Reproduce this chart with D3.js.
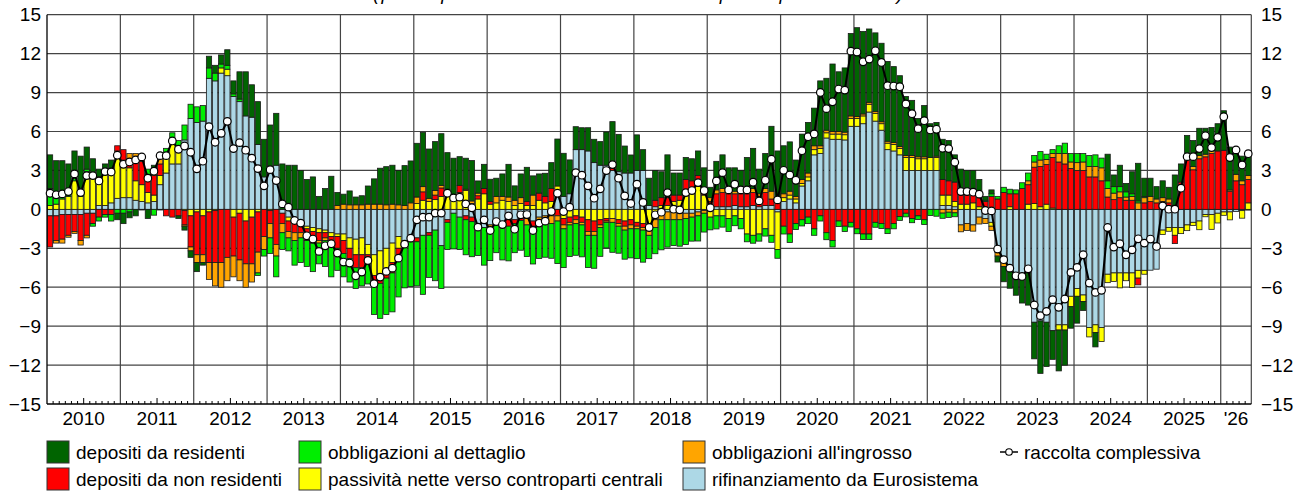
<!DOCTYPE html>
<html lang="it">
<head>
<meta charset="utf-8">
<style>
  body { margin: 0; background: #fff; }
  svg text { font-family: "Liberation Sans", Arial, sans-serif; fill: #000; }
</style>
<script src="https://cdn.jsdelivr.net/npm/d3@7/dist/d3.min.js"></script>
</head>
<body>
<svg width="1303" height="493"></svg>
<script>
// monthly data, Jan 2010 - May 2026 (one line per year)
var euro = [
  -0.5,-0.5,-0.4,-0.4,-0.4,-0.4,-0.3,-0.3,0.3,0.3,0.5,0.85,
  0.9,0.9,0.7,0.6,0.5,0.6,1.9,2.8,3.5,3.5,5.35,7.0,
  6.7,6.8,10.1,9.9,10.5,10.3,8.7,8.3,7.2,7.1,5.0,2.5,
  3.3,3.4,-0.3,-0.6,-0.8,-0.9,-1.3,-1.4,-1.5,-1.6,-1.8,-1.9,
  -1.9,-2.2,-2.3,-2.2,-2.7,-3.5,-3.2,-3.0,-2.6,-2.1,-2.4,-2.2,
  -2.2,-2.0,-1.8,-1.6,-2.8,-0.8,-0.3,-0.6,-0.5,-0.6,-1.3,-1.4,
  -1.2,-0.8,-1.0,-0.7,-0.8,-0.5,-0.7,-0.9,-0.6,-0.5,-0.5,1.2,
  1.0,1.2,4.6,4.6,4.5,3.6,3.4,3.4,3.0,2.9,2.8,2.8,
  3.0,3.0,0.3,0.2,-0.3,-0.2,-0.2,-0.3,-0.3,-0.3,-0.2,-0.1,
  0,0.2,0.2,0.2,0.3,0.2,0.2,0.3,0.2,0.3,0.3,-0.2,
  0.6,0.8,0.5,1.8,2.2,4.2,4.3,5.5,5.4,5.4,5.35,6.4,
  6.4,6.6,7.5,6.8,6.1,4.6,4.5,4.2,3.0,3.0,3.0,3.0,
  3.0,3.0,0.3,0.3,0.2,-1.2,-1.1,-1.2,-0.6,-0.7,-1.0,-3.0,
  -3.9,-4.5,-5.0,-5.0,-4.9,-8.7,-8.6,-8.7,-9.35,-8.9,-8.9,-6.7,
  -6.1,-6.6,-9.1,-8.9,-9.1,-5.0,-4.9,-4.9,-4.9,-4.9,-4.7,-4.7,
  -4.69,-4.61,-1.6,-1.4,-1.4,-1.4,-1.2,-1.0,-0.9,-0.4,-0.4,-0.3,
  -0.2,-0.2,-0.17,-0.1,-0.06
];
var ccp = [
  0.3,0.4,0.8,1.0,2.2,1.0,2.9,2.5,2.2,2.4,2.3,3.65,
  2.9,2.3,1.5,1.3,0.8,0.5,0.7,1.5,1.9,1.3,-0.1,-0.5,
  -0.2,-0.5,-0.2,-0.1,0.4,0.5,-0.6,-0.3,-0.9,-0.6,-0.2,0,
  -0.1,0,0,-0.3,-0.3,-0.2,-0.2,-0.3,-0.3,-0.2,-0.3,-0.2,
  -0.5,-0.8,-1.2,-1.3,-0.8,-1.6,-1.8,-1.6,-1.5,-0.9,-0.3,0,
  0.45,0.7,0.6,0.75,1.0,1.35,0.7,1.3,1.45,0.45,0.8,1.2,
  0.4,0.5,0.7,0.6,0.3,0.45,0.3,0.3,0.7,0.5,0.6,0.6,
  -0.7,-0.6,-0.5,-0.6,-0.8,-0.9,-0.8,-0.7,-0.7,-0.8,-0.9,-0.8,
  -1.0,-1.1,-1.3,-0.8,0.3,0.3,0.6,0.7,1.5,1.4,1.8,1.1,
  -0.6,-0.5,-0.5,-0.7,-0.5,-0.7,-1.9,-2.0,-1.9,-1.5,-2.0,-2.9,
  0.3,0.3,0.3,0.2,0.3,0.4,0.4,0.4,0.4,0.4,0.4,0.6,
  0.6,0.6,0.6,0.6,0.5,0.5,0.5,0.5,1.0,1.0,0.9,0.9,
  1.0,1.0,0.8,0.8,0.4,0.4,0.4,0.5,0.2,0,-0.3,-0.3,
  -0.2,0.2,-0.1,-0.2,0.4,0.45,0.2,0.4,0.1,-0.4,-0.4,-0.8,
  -0.6,-0.5,-0.73,-0.6,-1.09,-0.65,-0.66,-1.15,-0.6,-1.12,-0.6,-0.3,
  0,0,-0.33,-0.29,-0.6,-0.47,-0.44,-0.24,-0.67,-0.17,-1.14,-0.75,
  -0.26,-0.61,0,-0.58,0.5
];
var nonResidenti = [
  -2.4,-1.9,-1.9,-1.6,-1.3,-2.0,-1.7,-0.8,-0.6,-0.4,-0.4,0.4,
  0.8,0.7,1.7,1.8,1.1,1.5,0.9,-0.5,-0.6,-0.5,-1.1,-2.4,
  -3.3,-3.0,-3.9,-4.0,-4.1,-3.7,-3.0,-3.6,-3.3,-3.6,-3.1,-2.1,
  -1.0,-2.7,-0.8,-0.8,-0.7,-0.7,-0.6,-0.6,-0.6,-0.4,-0.5,-0.9,
  -1.0,-0.8,-1.0,-1.0,-0.5,-0.6,-0.7,-0.7,-0.8,-0.6,-0.2,-0.3,
  -0.3,0.65,-0.2,0.35,0.65,-0.2,0.2,0.55,-0.3,-0.35,0.25,0.4,
  0.2,-0.3,-0.3,-0.6,-0.3,-0.35,0.3,-0.4,0.55,0.5,1.0,-0.5,
  -0.5,-0.4,-0.3,-0.4,-0.9,-0.8,-0.4,-0.2,0.2,-0.3,-0.4,-0.4,
  -0.3,-0.3,-0.2,0.5,0.6,0.6,0.5,0.4,0.8,0.8,0.8,0.4,
  0.6,1.0,1.1,1.0,0.9,1.0,1.0,1.0,0.8,1.0,0.5,0.5,
  -1.3,-1.9,-1.1,-0.8,-0.6,-1.5,-0.5,-1.8,-2.4,-0.9,-1.3,-1.0,
  -1.5,-1.9,-1.9,-1.0,-1.1,-1.5,-1.1,-0.55,-0.3,-0.7,-0.5,-0.8,
  0,0,1.2,1.1,1.5,0.8,0.8,0.7,0.7,0.6,1.0,0.8,
  1.3,1.0,1.2,1.6,1.5,2.8,3.1,3.05,3.9,3.65,3.5,3.15,
  3.0,3.0,2.5,2.5,2.2,0.95,0.75,0.9,0.7,0.7,-0.52,0.5,
  0.6,0.5,0.6,0.5,-0.64,2.1,4.05,3.05,3.9,4.05,4.3,4.5,
  4.55,1.4,2.2,1.9,1.8
];
var ingrosso = [
  0,-0.2,-0.3,-0.15,-0.15,-0.35,-0.2,0,0,0,0,0,
  0,0.4,0.4,0.4,0.3,0.5,0.6,0,0,0,-0.1,-0.3,
  -0.6,-0.6,-1.3,-1.8,-1.9,-1.8,-1.6,-1.6,-1.8,-1.4,-1.6,-1.0,
  -1.1,-0.9,-0.7,-0.5,-0.6,-0.4,-0.3,-0.3,-0.2,-0.2,-0.3,0.3,
  0.4,0.35,0.35,0.35,0.4,0.4,0.4,0.35,0.4,0.35,0.3,0.5,
  0.5,0.4,0.25,0.35,0.2,0.2,0.2,0,0.1,0.2,0.2,0,
  -0.3,0.5,0.3,0.35,0.4,0.45,-0.5,0.8,-0.4,-0.5,-0.6,-0.4,
  -0.3,-0.2,-0.3,-0.2,-0.3,-0.3,-0.2,-0.1,-0.3,-0.2,-0.3,-0.3,
  -0.2,-0.2,-0.5,-0.6,-0.5,-0.6,-0.6,-0.5,-0.4,-0.3,-0.3,-0.2,
  0.3,0.3,0.3,0.2,0.2,0.3,0.3,0.3,0.2,0.3,0.6,0.4,
  0.3,0.3,0.2,0.3,0.3,0.3,0.2,0.2,0.2,0.2,0.2,0.2,
  0.15,0.15,0.15,0.15,0.15,0.15,0.15,0.15,0.15,0.15,0.15,0.15,
  0,0.1,-0.29,-0.22,-0.27,-0.53,-0.53,-0.48,-0.53,-0.39,-0.32,-0.3,
  -0.3,0,0,0,0.3,0.4,0.5,0.4,0.3,0.65,0.8,0.5,
  0.6,0.65,0.8,0.8,1.0,0.65,0.5,0.45,0.25,0.3,0.5,0.4,
  0.4,0.3,0.3,0.3,0.3,0,0,0.25,0.25,0.2,0.25,0,
  0,0.1,0.5,0.3,0.3
];
var dettaglio = [
  1.3,0.5,0.3,0.3,0.2,0.2,0.2,-0.2,-0.3,-0.2,-0.5,-0.3,
  -0.3,-0.2,0,0,0.4,-0.45,0.1,0.4,0.5,0.5,1.15,1.1,
  1.2,1.2,0.8,0.6,0.3,0.3,0.2,0.2,0,0,-0.2,-0.5,
  -1.2,-1.6,-1.3,-1.0,-1.9,-1.9,-2.0,-2.2,-1.6,-2.0,-2.3,-1.7,
  -1.8,-1.8,-1.6,-1.4,-1.75,-2.4,-2.7,-2.8,-3.0,-3.15,-3.15,-3.45,
  -3.4,-4.55,-3.25,-3.9,-3.3,-2.1,-2.75,-2.5,-2.7,-2.7,-2.25,-2.9,
  -2.45,-2.24,-2.6,-2.67,-2.24,-2.3,-2.44,-2.91,-2.79,-2.69,-2.67,-3.28,
  -2.99,-2.44,-2.44,-2.46,-2.48,-2.54,-2.22,-1.97,-2.31,-2.08,-2.24,-2.24,
  -2.3,-2.47,-1.8,-2.02,-2.32,-2.11,-1.99,-2.04,-2.01,-1.85,-1.94,-1.45,
  -0.98,-1.01,-0.87,-1.0,-0.76,-0.8,-0.6,-0.61,-0.55,-0.56,-0.54,-0.67,
  -0.6,-0.65,-0.46,-0.48,-0.5,-0.5,-0.4,-0.54,-0.5,-0.43,-0.41,-0.36,
  -0.38,-0.43,-0.42,-0.38,-0.38,-0.37,-0.4,-0.3,-0.28,-0.33,-0.28,-0.37,
  -0.48,-0.53,-0.4,-0.4,-0.3,0,0,0,0,0.1,0.2,0.2,
  0.4,0.35,0.3,0.45,0.6,0.5,0.65,0.4,0.3,0.6,0.8,0.65,
  0.7,0.65,0.85,0.9,0.75,0.6,0.5,0.4,0.4,0.2,0.15,0.1,
  0,0,0,0,0,0,0,0,0,0,0,0,
  0,0,0,0,0
];
var residenti = [
  2.6,2.85,2.65,2.2,2.1,2.9,1.7,1.4,0.6,0.8,1.0,-0.5,
  -0.8,-0.45,-0.5,-0.05,-0.7,0.3,-0.05,0,0,-0.2,-0.3,-0.5,
  -0.7,-0.2,0.9,0.6,0.7,1.2,1.0,2.1,3.4,2.5,3.3,2.9,
  3.2,4.0,3.5,3.4,3.4,3.0,2.3,2.5,1.0,1.6,2.55,1.0,
  0.77,1.07,0.6,0.7,1.4,1.95,2.77,2.94,3.0,2.64,3.07,3.23,
  4.14,4.19,3.8,3.77,3.98,2.82,2.84,2.21,2.39,3.11,0.94,1.87,
  1.72,1.4,1.73,2.52,1.11,1.83,2.64,1.48,1.48,1.78,2.0,3.62,
  3.32,2.61,1.77,1.69,1.79,1.8,1.82,2.56,3.56,2.88,2.08,1.39,
  2.74,1.6,2.1,2.3,2.0,3.3,1.7,1.7,1.7,1.7,1.9,1.7,
  0.8,2.2,2.6,1.8,1.8,1.5,2.5,3.1,1.9,2.7,5.0,3.6,
  3.7,3.8,2.8,3.5,3.9,2.9,5.0,4.0,5.2,4.6,4.95,6.35,
  6.85,6.35,5.65,6.05,6.05,6.15,5.85,5.45,4.55,4.25,2.95,3.95,
  2.6,2.6,3.1,3.1,2.1,1.9,1.8,1.8,1.4,0.3,0.3,-0.46,
  -1.18,-1.58,-1.52,-2.02,-2.48,-2.82,-4.04,-3.41,-2.21,-3.15,-2.71,-1.66,
  -2.07,-0.7,0,-1.1,0,2.05,0.9,1.65,0.65,1.7,2.9,1.4,
  1.4,0.95,1.3,0.9,2.35,1.4,1.65,2.0,2.1,2.0,1.75,2.1,
  3.05,3.3,2.05,1.9,1.75
];
var raccolta = [
  1.24,1.12,1.19,1.37,2.73,1.29,2.60,2.60,2.19,2.91,2.88,4.17,
  3.47,3.65,3.81,4.04,2.40,2.94,4.14,4.14,5.27,4.63,4.88,4.40,
  3.12,3.71,6.37,5.17,5.86,6.78,4.68,5.14,4.56,3.94,3.14,1.81,
  3.06,2.22,0.42,0.17,-0.86,-1.06,-2.04,-2.29,-3.24,-2.81,-2.65,-3.37,
  -4.06,-4.14,-5.12,-4.83,-3.94,-5.73,-5.22,-4.78,-4.53,-3.76,-2.68,-2.22,
  -0.81,-0.60,-0.60,-0.29,-0.29,1.24,0.88,0.94,0.42,0.12,-1.37,-0.81,
  -1.63,-0.94,-1.17,-0.50,-1.53,-0.42,-0.40,-1.63,-1.06,-0.91,-0.17,1.24,
  -0.17,0.17,2.83,2.63,1.81,0.86,1.58,2.99,3.45,2.40,1.04,0.45,
  1.94,0.53,-1.40,-0.42,-0.22,1.29,0.01,-0.04,1.29,1.45,2.06,1.45,
  0.12,2.19,2.83,1.50,1.94,1.50,1.50,2.09,0.65,2.24,3.86,0.73,
  3.01,2.65,2.24,4.52,5.60,5.81,9.01,7.76,8.29,9.27,9.19,12.19,
  12.12,11.37,11.58,12.22,11.32,9.53,9.50,9.45,8.12,7.37,6.22,6.83,
  6.12,6.17,4.71,4.68,3.63,1.37,1.37,1.32,1.17,-0.09,-0.12,-3.06,
  -3.88,-4.53,-5.12,-5.17,-4.58,-7.37,-8.19,-7.86,-6.96,-7.55,-6.91,-4.86,
  -4.47,-3.50,-5.68,-6.40,-6.24,-1.40,-2.91,-2.65,-3.50,-3.12,-2.27,-2.60,
  -2.29,-2.86,0.27,0.01,0.01,1.63,4.06,4.06,4.68,5.68,4.76,5.55,
  7.14,3.99,4.58,3.42,4.29
];
var yearLabels = ["2010","2011","2012","2013","2014","2015","2016","2017",
                  "2018","2019","2020","2021","2022","2023","2024","2025","'26"];
var yTicks = [-15, -12, -9, -6, -3, 0, 3, 6, 9, 12, 15];

// stacking order outward from zero
var keys = ["euro", "ccp", "nonResidenti", "ingrosso", "dettaglio", "residenti"];
var colors = {
  residenti: "#006400", nonResidenti: "#ff0000", dettaglio: "#00ee00",
  ccp: "#ffff00", ingrosso: "#ffa500", euro: "#add8e6"
};
var names = {
  residenti: "depositi da residenti", nonResidenti: "depositi da non residenti",
  dettaglio: "obbligazioni al dettaglio", ccp: "passività nette verso controparti centrali",
  ingrosso: "obbligazioni all'ingrosso", euro: "rifinanziamento da Eurosistema"
};
var series = { euro: euro, ccp: ccp, nonResidenti: nonResidenti,
               ingrosso: ingrosso, dettaglio: dettaglio, residenti: residenti };

var n = raccolta.length;
var data = d3.range(n).map(function(i) {
  var d = { i: i, total: raccolta[i] };
  keys.forEach(function(k) { d[k] = series[k][i]; });
  return d;
});

var svg = d3.select("svg");
var plotLeft = 47, plotRight = 1251.3, plotTop = 14.7, plotBottom = 404;

var pad = 0.14;
var x = d3.scaleBand().domain(d3.range(n)).range([plotLeft, plotRight])
    .paddingInner(pad).paddingOuter(pad / 2);
var xm = d3.scaleLinear().domain([0, n]).range([plotLeft, plotRight]);
var y = d3.scaleLinear().domain([-15, 15]).range([plotBottom, plotTop]);

// title (mostly cut off at the top of the picture)
svg.append("text")
    .attr("x", 638).attr("y", 0)
    .attr("text-anchor", "middle")
    .attr("textLength", 530).attr("lengthAdjust", "spacing")
    .style("font-size", "19px").style("font-style", "italic")
    .text("(punti percentuali e contributi in punti percentuali)");

// grid
var grid = svg.append("g").attr("stroke", "#444").attr("stroke-width", 1.2);
grid.selectAll(".h").data(yTicks.filter(function(t) { return t > -15; }))
  .enter().append("line")
    .attr("x1", plotLeft).attr("x2", plotRight)
    .attr("y1", function(t) { return y(t); })
    .attr("y2", function(t) { return y(t); });
grid.selectAll(".v").data(d3.range(1, yearLabels.length).map(function(k) { return k * 12; }).concat([n]))
  .enter().append("line")
    .attr("x1", function(m) { return xm(m); })
    .attr("x2", function(m) { return xm(m); })
    .attr("y1", plotTop).attr("y2", plotBottom);

// stacked bars
var stack = d3.stack().keys(keys).offset(d3.stackOffsetDiverging);
var layers = stack(data);

svg.append("g").selectAll("g")
  .data(layers)
  .enter().append("g")
    .attr("fill", function(s) { return colors[s.key]; })
  .selectAll("rect")
  .data(function(s) { return s.filter(function(d) { return d[1] !== d[0]; }); })
  .enter().append("rect")
    .attr("x", function(d) { return x(d.data.i); })
    .attr("width", x.bandwidth())
    .attr("y", function(d) { return y(Math.max(d[0], d[1])); })
    .attr("height", function(d) { return Math.abs(y(d[0]) - y(d[1])); })
    .attr("stroke", "#1a1a1a")
    .attr("stroke-width", 0.8);

// axes lines
svg.append("line").attr("x1", plotLeft).attr("x2", plotLeft).attr("y1", plotTop).attr("y2", plotBottom)
    .attr("stroke", "#000").attr("stroke-width", 1.3);
svg.append("line").attr("x1", plotLeft).attr("x2", plotRight).attr("y1", plotBottom).attr("y2", plotBottom)
    .attr("stroke", "#000").attr("stroke-width", 1.3);

// month ticks
svg.append("g").attr("stroke", "#000").attr("stroke-width", 1)
  .selectAll("line")
  .data(d3.range(1, n).filter(function(m) { return m % 12 !== 0; }))
  .enter().append("line")
    .attr("x1", function(m) { return xm(m); })
    .attr("x2", function(m) { return xm(m); })
    .attr("y1", plotBottom)
    .attr("y2", function(m) { return plotBottom - (m % 12 === 6 ? 6 : 3); });

// y labels on both sides
var yl = svg.append("g").style("font-size", "19px");
yl.selectAll(".l").data(yTicks).enter().append("text")
    .attr("x", 41).attr("y", function(t) { return y(t); })
    .attr("dy", "0.35em").attr("text-anchor", "end")
    .text(function(t) { return t < 0 ? "\u2212" + Math.abs(t) : t; });
yl.selectAll(".r").data(yTicks).enter().append("text")
    .attr("x", 1261).attr("y", function(t) { return y(t); })
    .attr("dy", "0.35em").attr("text-anchor", "start")
    .text(function(t) { return t < 0 ? "\u2212" + Math.abs(t) : t; });

// year labels
svg.append("g").style("font-size", "19px")
  .selectAll("text").data(yearLabels).enter().append("text")
    .attr("x", function(lab, k) { return (xm(k * 12) + xm(Math.min(k * 12 + 12, n))) / 2; })
    .attr("y", 425)
    .attr("text-anchor", "middle")
    .text(function(lab) { return lab; });

// total line with dots
var line = d3.line()
    .x(function(d) { return x(d.i) + x.bandwidth() / 2; })
    .y(function(d) { return y(d.total); });
svg.append("path").datum(data)
    .attr("d", line).attr("fill", "none")
    .attr("stroke", "#000").attr("stroke-width", 2);
svg.append("g").selectAll("circle").data(data).enter().append("circle")
    .attr("cx", function(d) { return x(d.i) + x.bandwidth() / 2; })
    .attr("cy", function(d) { return y(d.total); })
    .attr("r", 3.8)
    .attr("fill", "#fff").attr("stroke", "#000").attr("stroke-width", 1.2);

// legend
var legendItems = [
  { key: "residenti", x: 47, row: 0 }, { key: "nonResidenti", x: 47, row: 1 },
  { key: "dettaglio", x: 299, row: 0 }, { key: "ccp", x: 299, row: 1 },
  { key: "ingrosso", x: 683, row: 0 }, { key: "euro", x: 683, row: 1 }
];
var rowY = [452, 479];
var lg = svg.append("g").style("font-size", "19px");
legendItems.forEach(function(it) {
  lg.append("rect")
      .attr("x", it.x).attr("y", rowY[it.row] - 11)
      .attr("width", 22).attr("height", 22)
      .attr("fill", colors[it.key]).attr("stroke", "#333").attr("stroke-width", 1);
  lg.append("text")
      .attr("x", it.x + 29).attr("y", rowY[it.row])
      .attr("dy", "0.35em")
      .text(names[it.key]);
});
lg.append("line").attr("x1", 1000).attr("x2", 1018).attr("y1", rowY[0]).attr("y2", rowY[0])
    .attr("stroke", "#000").attr("stroke-width", 1.5);
lg.append("circle").attr("cx", 1009).attr("cy", rowY[0]).attr("r", 3.3)
    .attr("fill", "#fff").attr("stroke", "#000").attr("stroke-width", 1.1);
lg.append("text").attr("x", 1024).attr("y", rowY[0]).attr("dy", "0.35em")
    .text("raccolta complessiva");
</script>
</body>
</html>
